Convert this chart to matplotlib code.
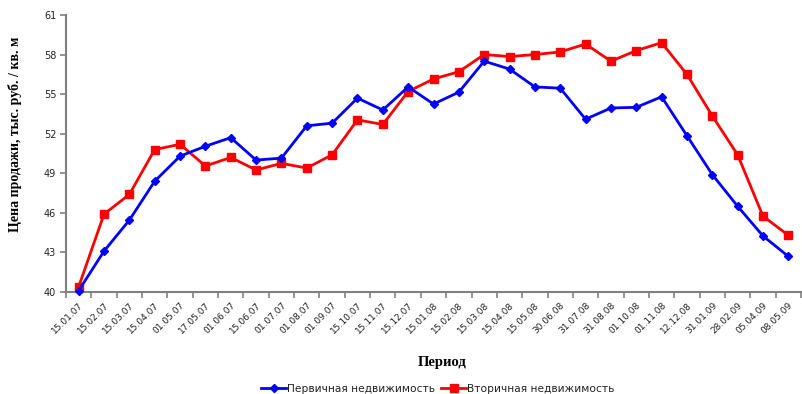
import matplotlib.pyplot as plt
import numpy as np

# Period labels (category axis)
periods = ['15.01.07', '15.02.07', '15.03.07', '15.04.07', '01.05.07', '17.05.07',
           '01.06.07', '15.06.07', '01.07.07', '01.08.07', '01.09.07', '15.10.07',
           '15.11.07', '15.12.07', '15.01.08', '15.02.08', '15.03.08', '15.04.08',
           '15.05.08', '30.06.08', '31.07.08', '31.08.08', '01.10.08', '01.11.08',
           '12.12.08', '31.01.09', '28.02.09', '05.04.09', '08.05.09']

# Price, thousand rub / sq. m
primary = [40.1, 43.1, 45.45, 48.4, 50.3, 51.05, 51.7, 50.0, 50.15, 52.6, 52.8, 54.7,
           53.8, 55.55, 54.25, 55.15, 57.5, 56.9, 55.55, 55.45, 53.1, 53.95, 54.0,
           54.8, 51.85, 48.9, 46.5, 44.25, 42.7]
secondary = [40.4, 45.9, 47.4, 50.8, 51.2, 49.55, 50.2, 49.25, 49.75, 49.4, 50.4, 53.05,
             52.7, 55.2, 56.15, 56.7, 58.0, 57.85, 58.0, 58.2, 58.8, 57.5, 58.3, 58.9,
             56.5, 53.35, 50.4, 45.75, 44.3]

yticks = [40, 43, 46, 49, 52, 55, 58, 61]

axis_color = '#808080'
text_color = '#222222'

fig = plt.figure(figsize=(8.02, 3.94), dpi=100)
ax = fig.add_axes([66 / 802, 102 / 394, 735 / 802, 277 / 394])

x = np.arange(len(periods))
ax.plot(x, primary, color='#0000FF', lw=2, marker='D', ms=4,
        label='Первичная недвижимость', clip_on=False, zorder=3)
ax.plot(x, secondary, color='#FF0000', lw=2, marker='s', ms=5.5,
        label='Вторичная недвижимость', clip_on=False, zorder=2)

ax.set_xlim(-0.5, len(periods) - 0.5)
ax.set_ylim(40, 61)

# Spines
for s in ['top', 'right']:
    ax.spines[s].set_visible(False)
for s in ['left', 'bottom']:
    ax.spines[s].set_color(axis_color)
    ax.spines[s].set_linewidth(1.5)

# Y axis
ax.set_yticks(yticks)
ax.set_yticklabels([str(v) for v in yticks], fontsize=7, color=text_color)
ax.tick_params(axis='y', direction='out', length=4, width=1.2, color=axis_color, pad=3)

# X axis: tick marks between categories, labels at centres
ax.set_xticks(x)
ax.set_xticklabels(periods, rotation=45, ha='right', rotation_mode='anchor',
                   fontsize=6.5, color=text_color)
ax.tick_params(axis='x', which='major', length=0, pad=6)
ax.set_xticks(np.arange(-0.5, len(periods), 1), minor=True)
ax.tick_params(axis='x', which='minor', direction='out', length=4, width=1.2,
               color=axis_color)

ax.set_ylabel('Цена продажи, тыс. руб. / кв. м', family='Liberation Serif',
              fontweight='bold', fontsize=10, color='black')
ax.yaxis.set_label_coords(-0.06, 0.57)
fig.text(0.551, 0.079, 'Период', family='Liberation Serif', fontweight='bold',
         fontsize=10.5, ha='center', va='center')

fig.legend(loc='center', bbox_to_anchor=(0.546, 0.013), ncol=2, frameon=False,
           fontsize=7.7, handlelength=2.3, handletextpad=0.1, columnspacing=0.6,
           labelcolor=text_color)

fig.savefig('out.png', dpi=100)
